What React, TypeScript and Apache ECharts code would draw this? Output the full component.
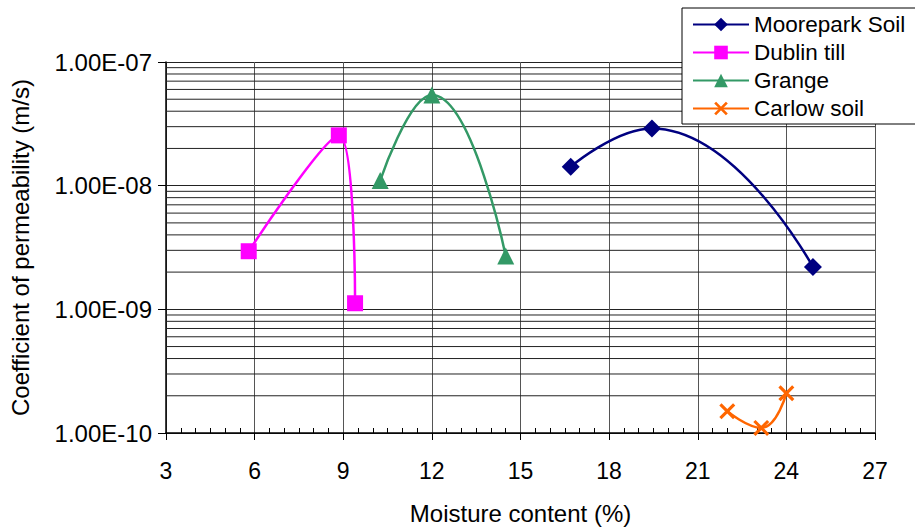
import React, { useEffect, useRef } from "react";
import * as echarts from "echarts";

const mooreparkX = [16.7, 19.45, 24.9];
const mooreparkY = [1.42e-8, 2.9e-8, 2.2e-9];
const dublinX = [5.8, 8.85, 9.4];
const dublinY = [2.95e-9, 2.55e-8, 1.12e-9];
const grangeX = [10.25, 12.0, 14.5];
const grangeY = [1.1e-8, 5.4e-8, 2.7e-9];
const carlowX = [22.0, 23.15, 24.0];
const carlowY = [1.5e-10, 1.1e-10, 2.1e-10];

const xTicks = [3, 6, 9, 12, 15, 18, 21, 24, 27];
const xMin = 3;
const xMax = 27;
const decades = [1e-10, 1e-9, 1e-8];
const minorMultipliers = [2, 3, 4, 5, 6, 7, 8, 9];

const FONT = "Liberation Sans, Arial, sans-serif";
const X_SYMBOL =
  "path://M0,1.4 L1.4,0 L10,8.6 L8.6,10 Z M8.6,0 L10,1.4 L1.4,10 L0,8.6 Z";

function zip(xs: number[], ys: number[]) {
  return xs.map((x, i) => [x, ys[i]]);
}

function fmtExp(v: number) {
  const s = v.toExponential(2).toUpperCase();
  const m = s.match(/^([\d.]+)E([+-])(\d+)$/);
  if (!m) return s;
  const exp = m[3].padStart(2, "0");
  return `${m[1]}E${m[2] === "-" ? "-" : "+"}${exp}`;
}

export default function App() {
  const ref = useRef<HTMLDivElement>(null);
  useEffect(() => {
    if (!ref.current) return;
    const chart = echarts.init(ref.current, undefined, { renderer: "svg" });
    const minorLines: number[] = [];
    decades.forEach((d) => minorMultipliers.forEach((m) => minorLines.push(m * d)));

    const gridSeries = minorLines.map((v, i) => ({
      name: "minor" + i,
      type: "line",
      data: [
        [xMin, v],
        [xMax, v],
      ],
      symbol: "none",
      silent: true,
      lineStyle: { color: "#222", width: 1 },
      z: 1,
    }));

    const lineSeries = (
      name: string,
      xs: number[],
      ys: number[],
      color: string,
      symbol: string,
      size: number
    ) => ({
      name,
      type: "line",
      data: zip(xs, ys),
      smooth: 0.5,
      symbol,
      symbolSize: size,
      lineStyle: { color, width: 2.5 },
      itemStyle: { color },
      z: 5,
    });

    chart.setOption({
      animation: false,
      textStyle: { fontFamily: FONT },
      grid: { left: 161, right: 40, top: 62, bottom: 92, containLabel: false },
      legend: {
        data: ["Moorepark Soil", "Dublin till", "Grange", "Carlow soil"],
        orient: "vertical",
        left: 682,
        top: 8,
        backgroundColor: "#fff",
        borderColor: "#000",
        borderWidth: 1,
        borderRadius: 0,
        padding: [5, 12, 4, 10],
        itemGap: 5,
        itemWidth: 56,
        itemHeight: 17,
        textStyle: { fontFamily: FONT, fontSize: 22.5, color: "#000" },
        z: 10,
      },
      xAxis: [
        {
          type: "value",
          min: xMin,
          max: xMax,
          interval: 3,
          name: "Moisture content (%)",
          nameLocation: "middle",
          nameGap: 68,
          nameTextStyle: { fontSize: 24, color: "#000", fontFamily: FONT },
          axisLine: { show: true, lineStyle: { color: "#000", width: 1.5 } },
          axisTick: { show: true, inside: false, length: 7, lineStyle: { color: "#000" } },
          minorTick: { show: false },
          axisLabel: {
            fontSize: 23,
            color: "#000",
            margin: 26,
            fontFamily: FONT,
            formatter: (v: number) => (xTicks.includes(v) ? String(v) : ""),
          },
          splitLine: { show: true, lineStyle: { color: "#555", width: 1 } },
        },
        {
          type: "value",
          min: xMin,
          max: xMax,
          interval: 3,
          position: "bottom",
          axisLine: { show: false },
          axisTick: { show: false, inside: true },
          minorTick: { show: true, splitNumber: 6, length: 5, lineStyle: { color: "#000" } },
          axisLabel: { show: false },
          splitLine: { show: false },
        },
      ],
      yAxis: {
        type: "log",
        logBase: 10,
        min: 1e-10,
        max: 1e-7,
        name: "Coefficient of permeability (m/s)",
        nameLocation: "middle",
        nameGap: 134,
        nameTextStyle: { fontSize: 24, color: "#000", fontFamily: FONT },
        axisLine: { show: true, lineStyle: { color: "#000", width: 1.5 } },
        axisTick: { show: true, inside: false, length: 8, lineStyle: { color: "#000" } },
        axisLabel: {
          fontSize: 24,
          color: "#000",
          margin: 14,
          fontFamily: FONT,
          formatter: (v: number) => fmtExp(v),
        },
        splitLine: { show: true, lineStyle: { color: "#222", width: 1.2 } },
      },
      series: [
        ...gridSeries,
        lineSeries("Moorepark Soil", mooreparkX, mooreparkY, "#000080", "diamond", 18),
        lineSeries("Dublin till", dublinX, dublinY, "#FF00FF", "rect", 16),
        lineSeries("Grange", grangeX, grangeY, "#339966", "triangle", 17),
        lineSeries("Carlow soil", carlowX, carlowY, "#FF6600", X_SYMBOL, 16),
      ],
    });
    return () => chart.dispose();
  }, []);
  return <div ref={ref} style={{ width: 915, height: 530, position: "absolute", left: 0, top: 0 }} />;
}
